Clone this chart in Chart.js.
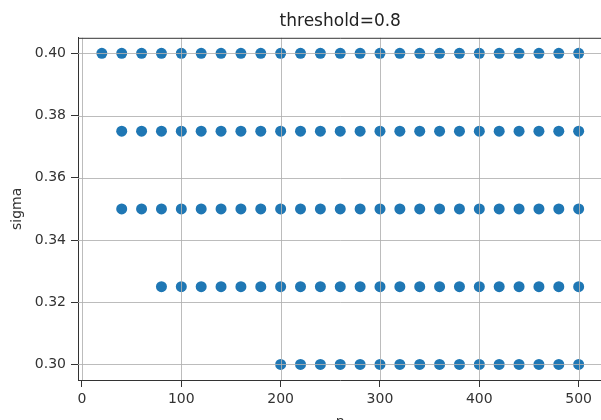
<!DOCTYPE html>
<html>
<head>
<meta charset="utf-8">
<script src="https://cdn.jsdelivr.net/npm/chart.js@4.4.0/dist/chart.umd.min.js"></script>
<style>
  html, body { margin: 0; padding: 0; background: #fff; overflow: hidden; }
  /* the reference is cropped on the right and bottom, so the canvas is a bit bigger than the window */
  #wrap { width: 601px; height: 420px; overflow: hidden; }
  #box { width: 608px; height: 440px; }
</style>
</head>
<body>
<div id="wrap"><div id="box"><canvas id="chart"></canvas></div></div>
<script>
// sigma rows and the n values where a point was found
const sigmaRows = [0.40, 0.375, 0.35, 0.325, 0.30];
const nAt040  = [20, 40, 60, 80, 100, 120, 140, 160, 180, 200, 220, 240, 260, 280, 300, 320, 340, 360, 380, 400, 420, 440, 460, 480, 500];
const nAt0375 = [40, 60, 80, 100, 120, 140, 160, 180, 200, 220, 240, 260, 280, 300, 320, 340, 360, 380, 400, 420, 440, 460, 480, 500];
const nAt035  = [40, 60, 80, 100, 120, 140, 160, 180, 200, 220, 240, 260, 280, 300, 320, 340, 360, 380, 400, 420, 440, 460, 480, 500];
const nAt0325 = [80, 100, 120, 140, 160, 180, 200, 220, 240, 260, 280, 300, 320, 340, 360, 380, 400, 420, 440, 460, 480, 500];
const nAt030  = [200, 220, 240, 260, 280, 300, 320, 340, 360, 380, 400, 420, 440, 460, 480, 500];
const xTicks = [0, 100, 200, 300, 400, 500];
const yTicks = [0.30, 0.32, 0.34, 0.36, 0.38, 0.40];

const rows = [nAt040, nAt0375, nAt035, nAt0325, nAt030];
const points = [];
rows.forEach((ns, i) => ns.forEach(n => points.push({ x: n, y: sigmaRows[i] })));

const GRID = 'rgba(176,176,176,0.85)';
const INK = '#333';

// matplotlib draws the grid over the scatter, and a top spine
const overlay = {
  id: 'overlay',
  afterDatasetsDraw(chart) {
    const { ctx, chartArea: a, scales: { x, y } } = chart;
    ctx.save();
    ctx.strokeStyle = GRID;
    ctx.lineWidth = 1;
    ctx.beginPath();
    for (const v of xTicks) { const px = Math.round(x.getPixelForValue(v)) + 0.5; ctx.moveTo(px, a.top); ctx.lineTo(px, a.bottom); }
    for (const v of yTicks) { const py = Math.round(y.getPixelForValue(v)) + 0.5; ctx.moveTo(a.left, py); ctx.lineTo(a.right, py); }
    ctx.stroke();
    ctx.strokeStyle = INK;
    ctx.beginPath();
    ctx.moveTo(a.left, a.top + 0.5); ctx.lineTo(a.right, a.top + 0.5);
    ctx.stroke();
    ctx.restore();
  }
};

new Chart(document.getElementById('chart').getContext('2d'), {
  type: 'scatter',
  data: { datasets: [{
    data: points,
    backgroundColor: '#1f77b4', borderWidth: 0, pointRadius: 5.5, pointHoverRadius: 5.5,
  }] },
  options: {
    responsive: true, maintainAspectRatio: false, animation: false,
    layout: { padding: { left: 0, right: 0, top: 0, bottom: 0 } },
    plugins: {
      legend: { display: false },
      tooltip: { enabled: false },
      title: { display: true, text: 'threshold=0.8', fullSize: false, color: '#222',
               font: { family: 'DejaVu Sans', size: 17, weight: 'normal' }, padding: { top: 11, bottom: 6.4 } },
    },
    scales: {
      x: {
        type: 'linear', min: -4, max: 524,
        afterBuildTicks: s => { s.ticks = xTicks.map(v => ({ value: v })); },
        afterFit: s => { s.height = 60; },
        grid: { drawOnChartArea: false, tickLength: 7, tickColor: INK },
        border: { color: INK, width: 1 },
        ticks: { color: INK, padding: 4, font: { family: 'DejaVu Sans', size: 14 } },
        title: { display: true, text: 'n', color: INK, font: { family: 'DejaVu Sans', size: 14 }, padding: { top: 0, bottom: 9 } },
      },
      y: {
        type: 'linear', min: 0.295, max: 0.405,
        afterBuildTicks: s => { s.ticks = yTicks.map(v => ({ value: v })); },
        afterFit: s => { s.width = 78; },
        grid: { drawOnChartArea: false, tickLength: 7, tickColor: INK },
        border: { color: INK, width: 1 },
        ticks: { color: INK, padding: 5, font: { family: 'DejaVu Sans', size: 14 }, callback: v => v.toFixed(2) },
        title: { display: true, text: 'sigma', color: INK, font: { family: 'DejaVu Sans', size: 14 }, padding: { top: 9, bottom: 0 } },
      },
    },
  },
  plugins: [overlay],
});
</script>
</body>
</html>
